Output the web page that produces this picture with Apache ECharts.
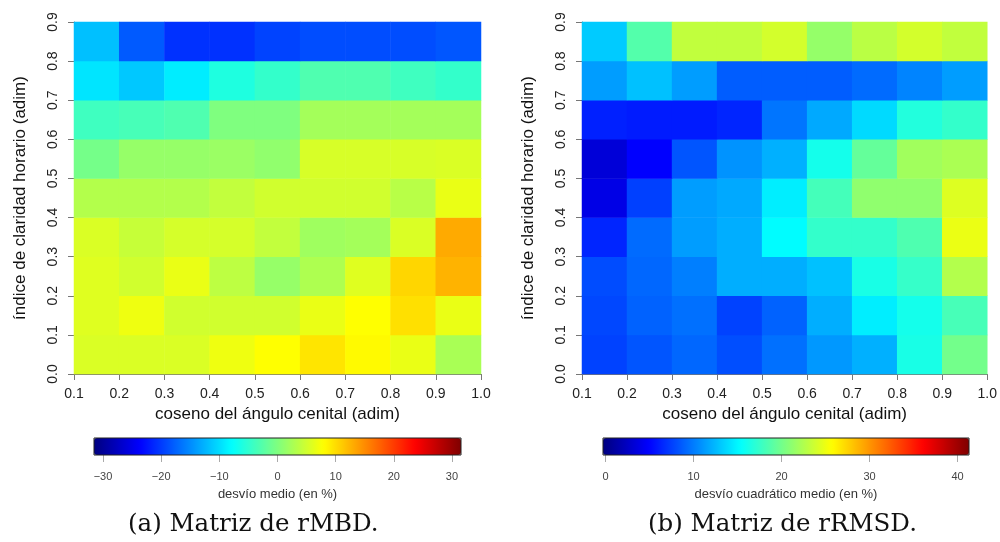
<!DOCTYPE html>
<html>
<head>
<meta charset="utf-8">
<script src="https://cdn.jsdelivr.net/npm/echarts@6/dist/echarts.min.js"></script>
<style>
html, body { margin: 0; padding: 0; background: #fff; }
#chart { width: 1000px; height: 542px; }
</style>
</head>
<body>
<div id="chart"></div>
<script>
// celdas: columnas = coseno del angulo cenital, filas = indice de claridad (de abajo hacia arriba)
const cosZ = ['0.1-0.2', '0.2-0.3', '0.3-0.4', '0.4-0.5', '0.5-0.6', '0.6-0.7', '0.7-0.8', '0.8-0.9', '0.9-1.0']
const kt = ['0.0-0.1', '0.1-0.2', '0.2-0.3', '0.3-0.4', '0.4-0.5', '0.5-0.6', '0.6-0.7', '0.7-0.8', '0.8-0.9']

// desvio medio (%)
const rMBD = [
  [5.6, 5.6, 5.6, 6.9, 7.9, 9.5, 8.2, 6.6, 2.6],
  [5.9, 6.9, 5.0, 5.0, 5.0, 6.6, 7.9, 9.8, 6.6],
  [5.9, 5.0, 6.6, 3.8, 1.4, 2.9, 5.9, 10.4, 12.6],
  [5.6, 4.4, 5.3, 5.3, 4.1, 2.0, 2.3, 5.6, 13.1],
  [3.2, 3.2, 3.2, 4.1, 5.0, 5.0, 5.0, 3.5, 6.6],
  [-0.6, 1.4, 1.4, 1.7, 1.1, 5.4, 5.4, 5.4, 5.6],
  [-4.0, -3.5, -3.0, 0.0, 0.0, 2.3, 2.3, 2.3, 2.3],
  [-9.5, -11.3, -9.0, -6.0, -4.7, -3.0, -3.0, -4.0, -4.7],
  [-11.8, -18.1, -20.6, -20.6, -19.5, -18.9, -18.9, -18.9, -18.3]
]

// desvio cuadratico medio (%)
const rRMSD = [
  [7.6, 8.4, 9.1, 8.1, 9.5, 11.1, 12.1, 16.3, 20.0],
  [7.8, 8.9, 9.5, 7.6, 8.9, 12.0, 14.6, 16.1, 18.2],
  [8.0, 9.1, 10.1, 12.0, 12.0, 12.8, 16.3, 17.5, 22.6],
  [6.4, 9.3, 11.3, 12.0, 15.2, 17.4, 17.4, 18.5, 24.9],
  [3.9, 7.5, 11.3, 11.8, 14.6, 18.1, 21.2, 21.2, 24.3],
  [3.3, 4.9, 8.4, 10.9, 12.1, 16.1, 19.4, 21.9, 22.3],
  [6.2, 6.0, 6.0, 6.4, 9.7, 11.8, 13.8, 16.7, 17.4],
  [11.3, 12.8, 11.3, 8.7, 8.7, 8.7, 9.3, 10.3, 11.3],
  [13.2, 18.7, 23.2, 23.2, 23.9, 21.4, 22.9, 23.9, 23.2]
]

const ticksMBD = [-30, -20, -10, 0, 10, 20, 30]
const ticksRMSD = [0, 10, 20, 30, 40]
const rangoMBD = [-31.55, 31.55]
const rangoRMSD = [-0.3, 41.3]

const jet = ['#00007F', '#0000FF', '#007FFF', '#00FFFF', '#7FFF7F', '#FFFF00', '#FF7F00', '#FF0000', '#7F0000']
const fuente = 'Liberation Sans'

const celdas = m => m.flatMap((fila, j) => fila.map((v, i) => [i, j, v]))

function ejeCat(grid, datos, pos){
  return { type: 'category', gridIndex: grid, data: datos, show: false, position: pos }
}

function ejeX(grid){
  return {
    type: 'value', gridIndex: grid, position: 'bottom', min: 0.1, max: 1.0, interval: 0.1,
    name: 'coseno del ángulo cenital (adim)', nameLocation: 'middle', nameGap: 28,
    nameTextStyle: { fontFamily: fuente, fontSize: 17, color: '#111' },
    axisLine: { lineStyle: { color: '#777', width: 1 } },
    axisTick: { length: 6, lineStyle: { color: '#777' } },
    axisLabel: { fontFamily: fuente, fontSize: 14, color: '#222', margin: 13, formatter: v => v.toFixed(1) },
    splitLine: { show: false }
  }
}

function ejeY(grid){
  return {
    type: 'value', gridIndex: grid, position: 'left', min: 0, max: 0.9, interval: 0.1,
    name: 'índice de claridad horario (adim)', nameLocation: 'middle', nameGap: 45,
    nameTextStyle: { fontFamily: fuente, fontSize: 17, color: '#111' },
    axisLine: { lineStyle: { color: '#777', width: 1 } },
    axisTick: { length: 6, lineStyle: { color: '#777' } },
    axisLabel: { fontFamily: fuente, fontSize: 14, color: '#222', margin: 14, rotate: 90, formatter: v => v.toFixed(1) },
    splitLine: { show: false }
  }
}

function ejeBarra(grid, rango, ticks, titulo){
  return {
    type: 'value', gridIndex: grid, position: 'bottom', min: rango[0], max: rango[1],
    name: titulo, nameLocation: 'middle', nameGap: 33,
    nameTextStyle: { fontFamily: fuente, fontSize: 13, color: '#333' },
    axisLine: { show: false },
    axisTick: { length: 7, customValues: ticks, lineStyle: { color: '#aaa' } },
    axisLabel: { fontFamily: fuente, fontSize: 11, color: '#444', margin: 16, customValues: ticks,
      formatter: v => String(v).replace('-', '\u2212') },
    splitLine: { show: false }
  }
}

const chart = echarts.init(document.getElementById('chart'))

chart.setOption({
  backgroundColor: '#fff',
  animation: false,
  grid: [
    { left: 74, top: 22, width: 407, height: 352 },
    { left: 582, top: 22, width: 407, height: 352 },
    { left: 94, top: 438, width: 367, height: 17, show: true, z: 10, borderColor: '#222', borderWidth: 1, backgroundColor: 'transparent' },
    { left: 603, top: 438, width: 366, height: 17, show: true, z: 10, borderColor: '#222', borderWidth: 1, backgroundColor: 'transparent' }
  ],
  xAxis: [
    ejeCat(0, cosZ, 'bottom'), ejeX(0),
    ejeCat(1, cosZ, 'bottom'), ejeX(1),
    ejeBarra(2, rangoMBD, ticksMBD, 'desvío medio (en %)'),
    ejeBarra(3, rangoRMSD, ticksRMSD, 'desvío cuadrático medio (en %)')
  ],
  yAxis: [
    ejeCat(0, kt, 'left'), ejeY(0),
    ejeCat(1, kt, 'left'), ejeY(1),
    { type: 'value', gridIndex: 2, show: false, min: 0, max: 1 },
    { type: 'value', gridIndex: 3, show: false, min: 0, max: 1 }
  ],
  visualMap: [
    { type: 'continuous', seriesIndex: 0, min: rangoMBD[0], max: rangoMBD[1], orient: 'horizontal',
      left: 94, top: 438, itemWidth: 17, itemHeight: 367, padding: 0, text: null, calculable: false,
      showLabel: false, hoverLink: false, inRange: { color: jet } },
    { type: 'continuous', seriesIndex: 1, min: rangoRMSD[0], max: rangoRMSD[1], orient: 'horizontal',
      left: 603, top: 438, itemWidth: 17, itemHeight: 366, padding: 0, text: null, calculable: false,
      showLabel: false, hoverLink: false, inRange: { color: jet } }
  ],
  series: [
    { type: 'heatmap', xAxisIndex: 0, yAxisIndex: 0, data: celdas(rMBD), itemStyle: { borderWidth: 0 } },
    { type: 'heatmap', xAxisIndex: 2, yAxisIndex: 2, data: celdas(rRMSD), itemStyle: { borderWidth: 0 } }
  ],
  graphic: [
    { type: 'text', left: 128, top: 512, style: { text: '(a) Matriz de rMBD.', font: '24.5px "DejaVu Serif"', fill: '#111' } },
    { type: 'text', left: 648, top: 512, style: { text: '(b) Matriz de rRMSD.', font: '24.5px "DejaVu Serif"', fill: '#111' } }
  ]
})
</script>
</body>
</html>
